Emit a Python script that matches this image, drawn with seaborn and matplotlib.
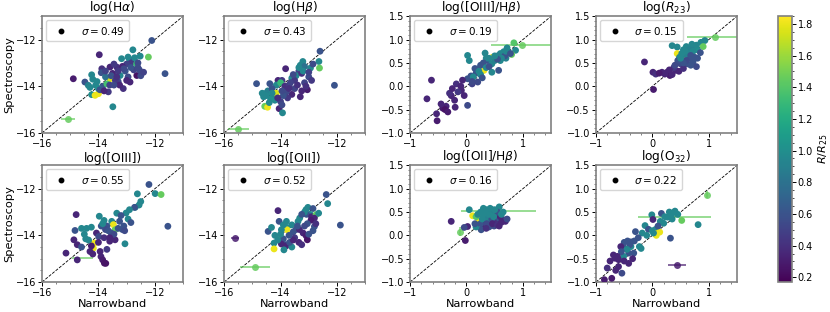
import numpy as np
import pandas as pd
import matplotlib
matplotlib.use("Agg")
import matplotlib.pyplot as plt
import seaborn as sns

# colour scale (R/R25)
vmin, vmax = 0.17, 1.85

titles = ["log(H$\\alpha$)", "log(H$\\beta$)", "log([OIII]/H$\\beta$)", "log($R_{23}$)",
          "log([OIII])", "log([OII])", "log([OII]/H$\\beta$)", "log(O$_{32}$)"]
sigmas = [0.49, 0.43, 0.19, 0.15, 0.55, 0.52, 0.16, 0.22]

# --- log(Halpha)
ha_x = [-12.11, -12.78, -12.52, -12.23, -13.97, -13.18, -12.9, -12.8, -12.7, -12.85, -12.65, -13.0,
        -11.64, -14.89, -14.48, -14.24, -13.88, -13.59, -13.35, -13.15, -13.9, -13.5, -13.23, -12.64,
        -12.88, -13.12, -13.65, -13.85, -14.1, -14.36, -14.24, -14.12, -14.0, -13.59, -13.7, -13.49,
        -13.3, -13.05, -12.75, -13.4, -13.6, -14.0, -13.75, -12.95, -13.25, -14.3, -12.6, -13.45,
        -12.95, -12.72, -12.6, -12.55, -12.85, -13.1, -13.3, -13.0, -13.55, -13.75, -14.2, -14.05,
        -13.95, -13.8, -13.45, -13.35, -12.5, -12.4]
ha_y = [-12.04, -12.44, -12.71, -12.75, -12.65, -12.82, -12.85, -12.9, -12.95, -13.0, -13.05, -13.05,
        -13.46, -13.68, -13.82, -13.51, -13.25, -13.18, -13.18, -13.15, -13.42, -13.45, -13.54, -13.54,
        -13.82, -14.1, -14.24, -14.0, -13.96, -13.96, -14.36, -14.39, -14.32, -13.68, -13.9, -14.88,
        -13.8, -13.35, -13.3, -13.75, -13.95, -14.1, -13.6, -13.6, -13.95, -14.05, -13.2, -13.05,
        -12.75, -12.78, -13.0, -13.3, -13.2, -13.25, -13.35, -13.75, -13.55, -13.35, -13.7, -13.8,
        -14.15, -14.2, -13.95, -13.6, -13.55, -13.4]
ha_c = [0.6, 0.95, 0.95, 1.45, 0.35, 0.95, 0.9, 0.6, 1.0, 0.45, 1.3, 0.5,
        0.6, 0.3, 0.6, 0.95, 0.4, 0.35, 0.4, 0.35, 0.6, 0.35, 0.95, 0.25,
        0.35, 0.4, 0.45, 0.6, 0.95, 0.9, 1.0, 1.8, 1.8, 1.75, 1.35, 0.95,
        0.55, 0.6, 0.5, 0.45, 0.5, 1.0, 0.8, 0.55, 0.35, 0.95, 0.55, 0.45,
        0.95, 0.95, 0.55, 0.55, 0.6, 0.55, 0.45, 0.35, 0.6, 0.5, 0.95, 0.95,
        0.6, 0.35, 0.55, 0.4, 0.55, 0.5]

# --- log(Hbeta)
hb_x = [-12.6, -13.21, -12.64, -12.94, -12.62, -12.09, -13.82, -13.3, -13.15, -13.35, -13.45, -13.6,
        -13.25, -13.0, -13.5, -14.85, -14.38, -14.09, -13.95, -14.15, -14.0, -14.56, -14.45, -14.3,
        -14.56, -14.46, -14.2, -14.0, -14.05, -13.93, -13.05, -13.3, -13.5, -13.6, -13.8, -13.75,
        -14.25, -14.35, -14.15, -13.85, -13.7, -13.9, -13.4, -13.15, -14.6, -14.1,
        -13.35, -13.2, -13.0, -12.9, -13.1, -13.25, -13.55, -13.65, -13.95, -14.3, -14.5, -14.65,
        -14.4, -13.95, -13.7, -12.85]
hb_y = [-12.5, -12.94, -12.94, -13.22, -13.22, -13.96, -13.25, -13.1, -13.15, -13.35, -13.55, -13.65,
        -13.45, -13.6, -13.75, -13.89, -13.89, -13.75, -13.75, -13.95, -13.85, -14.32, -14.2, -14.1,
        -14.86, -14.9, -14.6, -14.65, -14.96, -15.14, -14.15, -14.45, -14.1, -14.35, -14.25, -14.5,
        -14.4, -14.55, -14.3, -14.0, -13.95, -14.4, -13.95, -13.85, -14.45, -14.5,
        -13.2, -13.35, -13.4, -13.75, -14.0, -14.2, -13.5, -13.85, -14.2, -14.3, -14.4, -14.3,
        -14.7, -14.8, -14.1, -13.05]
hb_c = [0.6, 0.95, 0.95, 0.95, 1.45, 0.6, 0.35, 0.95, 0.8, 0.5, 0.95, 0.95,
        0.4, 0.55, 0.45, 0.6, 0.6, 0.35, 0.45, 0.95, 1.3, 0.95, 0.9, 0.6,
        1.45, 1.8, 0.95, 0.5, 0.35, 0.95, 0.3, 0.35, 0.5, 0.35, 0.55, 0.45,
        0.95, 1.0, 1.75, 0.4, 0.45, 0.6, 0.4, 0.5, 0.95, 0.4,
        0.95, 0.95, 0.5, 0.45, 0.4, 0.35, 0.55, 0.5, 0.55, 0.95, 0.95, 0.95,
        0.95, 0.55, 0.4, 0.55]

# --- log([OIII]/Hbeta)
o3hb_x = [0.84, 0.87, 0.8, 0.72, 0.66, 0.6, 0.55, 0.46, 0.02, 0.05, 0.33, 0.38, 0.45, 0.31, 0.57,
          0.45, 0.2, 0.17, 0.08, 0.02, 0.2, 0.12, 0.25, 0.35, 0.5, -0.07, -0.18, -0.09, -0.27, -0.15,
          -0.04, 0.02, -0.21, -0.62, -0.7, -0.36, -0.42, -0.38, -0.33, -0.2, -0.53, -0.52, -0.3, 0.1,
          0.28, 0.6, 0.7,
          0.75, 0.68, 0.62, 0.55, 0.5, 0.4, 0.3, 0.25, 0.15, 0.22, 0.35, 0.4, 0.1, -0.1, -0.25,
          -0.45, 0.7, 0.78]
o3hb_y = [0.93, 0.77, 0.68, 0.82, 0.74, 0.7, 0.65, 0.62, 0.66, 0.55, 0.71, 0.55, 0.48, 0.34, 0.34,
          0.3, 0.37, 0.28, 0.22, 0.16, 0.09, 0.2, 0.25, 0.6, 0.55, 0.13, 0.05, -0.09, -0.2, -0.12,
          -0.2, -0.41, -0.3, 0.13, -0.27, -0.43, -0.47, -0.5, -0.55, -0.45, -0.59, -0.74, -0.15, 0.05,
          0.18, 0.55, 0.6,
          0.72, 0.65, 0.6, 0.58, 0.65, 0.6, 0.5, 0.45, 0.38, 0.32, 0.4, 0.42, 0.1, 0.0, -0.05,
          -0.38, 0.75, 0.7]
o3hb_c = [1.4, 0.95, 1.45, 0.95, 0.95, 0.95, 0.9, 1.8, 0.95, 0.95, 0.95, 0.6, 0.95, 1.8, 0.6,
          0.95, 0.95, 0.6, 0.6, 0.6, 0.55, 0.95, 0.95, 0.95, 0.9, 0.35, 0.4, 0.35, 0.35, 0.45,
          0.35, 0.55, 0.35, 0.35, 0.35, 0.35, 0.3, 0.25, 0.3, 0.35, 0.35, 0.3, 0.4, 0.5,
          0.6, 0.95, 0.9,
          0.95, 0.6, 0.95, 0.6, 0.95, 0.95, 0.6, 0.6, 0.6, 0.95, 0.95, 0.6, 0.55, 0.35, 0.35,
          0.35, 0.95, 0.6]

# --- log(R23)
r23_x = [0.93, 0.86, 0.9, 0.35, 0.44, 0.6, 0.68, 0.75, 0.8, 0.62, 0.7, 0.55, 0.44, 0.56, 0.65,
         0.52, 0.72, 0.78, 0.62, 0.5, 0.8, -0.14, 0.01, 0.06, 0.17, 0.26, 0.31, 0.35, 0.41, 0.47,
         0.38, 0.55, 0.02, 0.48, 0.58,
         0.7, 0.78, 0.65, 0.72, 0.85, 0.58, 0.52, 0.68, 0.75, 0.6, 0.55, 0.45, 0.4, 0.68, 0.3,
         0.22, 0.12, 0.5]
r23_y = [0.98, 0.94, 0.85, 0.87, 0.84, 0.85, 0.8, 0.82, 0.78, 0.72, 0.7, 0.78, 0.7, 0.62, 0.6,
         0.56, 0.52, 0.42, 0.48, 0.48, 0.6, 0.52, 0.30, 0.26, 0.30, 0.3, 0.23, 0.25, 0.34, 0.32,
         0.4, 0.38, -0.07, 0.62, 0.68,
         0.9, 0.88, 0.78, 0.75, 0.72, 0.75, 0.7, 0.66, 0.62, 0.55, 0.5, 0.55, 0.45, 0.45, 0.35,
         0.26, 0.28, 0.6]
r23_c = [0.95, 0.95, 1.45, 0.95, 0.95, 0.95, 0.95, 0.9, 1.0, 0.95, 0.9, 0.95, 1.8, 1.8, 0.6,
         0.6, 0.6, 0.55, 0.6, 0.55, 0.6, 0.35, 0.35, 0.4, 0.35, 0.35, 0.3, 0.35, 0.35, 0.35,
         0.45, 0.4, 0.3, 0.95, 0.9,
         0.95, 0.95, 0.9, 0.95, 0.6, 0.95, 0.95, 0.6, 0.6, 0.55, 0.6, 0.6, 0.55, 0.6, 0.35,
         0.35, 0.3, 0.95]

# --- log([OIII])
o3_x = [-12.21, -11.99, -11.78, -12.62, -12.5, -12.56, -12.7, -12.72, -13.02, -13.35, -13.2, -12.95,
        -13.1, -13.15, -13.07, -13.06, -11.54, -14.79, -13.97, -13.8, -13.53, -13.47, -13.41, -13.7,
        -13.75, -13.65, -13.9, -14.6, -14.42, -14.25, -14.83, -14.87, -14.75, -14.45, -14.07, -13.99,
        -14.14, -14.18, -14.25, -13.94, -13.41, -13.6, -13.8, -14.3, -15.15, -13.91, -13.85, -13.79,
        -13.74, -14.75, -14.6, -13.55,
        -12.9, -13.25, -13.3, -12.85, -13.45, -13.6, -14.0, -14.35, -14.5, -13.85, -14.2, -13.7]
o3_y = [-11.82, -12.21, -12.25, -12.22, -12.55, -12.7, -12.8, -12.8, -13.04, -13.05, -13.15, -13.3,
        -13.6, -13.75, -13.8, -14.36, -13.61, -13.11, -13.18, -13.36, -13.4, -13.54, -13.76, -13.6,
        -13.75, -13.8, -13.6, -13.7, -13.7, -13.65, -13.79, -14.19, -14.4, -14.15, -13.9, -14.05,
        -14.33, -14.55, -14.45, -14.69, -14.19, -14.25, -14.1, -14.69, -14.76, -14.91, -15.05, -15.19,
        -15.2, -15.05, -14.5, -13.9,
        -12.9, -13.4, -13.7, -13.45, -13.95, -14.1, -14.3, -14.2, -13.95, -13.5, -14.8, -14.6]
o3_c = [0.6, 0.95, 1.45, 0.95, 0.95, 0.95, 0.95, 0.6, 0.95, 0.95, 0.6, 0.95,
        0.6, 0.6, 0.55, 0.95, 0.6, 0.35, 0.95, 0.95, 0.95, 1.8, 1.45, 0.6,
        0.55, 0.6, 0.6, 0.95, 0.95, 0.95, 0.6, 0.35, 0.35, 0.95, 0.35, 0.55,
        1.8, 1.8, 0.3, 0.35, 0.35, 0.35, 0.4, 0.35, 0.35, 0.35, 0.3, 0.25,
        0.25, 0.35, 0.6, 0.6,
        0.95, 0.6, 0.6, 0.6, 0.55, 0.35, 0.35, 0.95, 0.95, 0.95, 0.35, 0.45]

# --- log([OII])
o2_x = [-12.38, -12.33, -13.03, -13.1, -12.85, -12.95, -13.08, -12.9, -12.74, -13.32, -13.38, -12.8,
        -12.92, -11.88, -14.09, -14.05, -14.44, -13.79, -13.6, -13.77, -14.32, -13.77, -13.97, -13.55,
        -13.45, -13.33, -13.2, -13.09, -13.05, -13.0, -12.85, -12.8, -14.2, -13.97, -13.9, -14.23,
        -14.23, -13.82, -13.97, -13.8, -13.6, -13.68, -13.88, -13.35, -13.5, -13.25,
        -13.15, -13.25, -13.05, -13.15, -13.4, -13.55, -13.7, -14.1, -14.0, -13.9, -12.65, -12.75]
o2_y = [-12.25, -12.64, -12.8, -12.9, -12.85, -13.1, -13.1, -13.2, -13.11, -13.26, -13.4, -13.26,
        -13.35, -13.56, -12.94, -13.4, -13.83, -13.4, -13.55, -13.66, -13.66, -13.76, -13.76, -13.85,
        -13.75, -13.75, -13.9, -14.02, -14.19, -13.95, -13.8, -13.62, -14.0, -14.12, -14.15, -14.33,
        -14.58, -14.4, -14.37, -14.45, -14.5, -14.3, -14.62, -14.3, -14.1, -14.4,
        -13.0, -13.1, -13.5, -13.6, -13.6, -14.2, -14.0, -14.2, -13.95, -13.55, -13.05, -13.5]
o2_c = [0.6, 0.95, 0.95, 0.95, 0.6, 0.95, 0.6, 0.35, 1.45, 0.95, 0.95, 0.35,
        0.3, 0.6, 0.35, 0.6, 0.6, 0.95, 0.95, 0.95, 0.95, 1.8, 0.95, 0.6,
        0.6, 0.35, 0.35, 0.3, 0.25, 0.6, 0.6, 0.6, 0.95, 1.45, 0.6, 0.95,
        1.8, 0.6, 0.35, 0.35, 0.95, 0.6, 0.95, 0.35, 0.45, 0.4,
        0.95, 0.6, 0.6, 0.55, 0.6, 0.35, 0.6, 0.95, 0.95, 0.95, 0.95, 0.4]

# --- log([OII]/Hbeta)
o2hb_x = [0.58, 0.05, 0.25, 0.33, 0.41, 0.47, 0.52, 0.45, 0.35, 0.11, 0.22, 0.17, 0.34, 0.43, 0.52,
          0.58, 0.67, 0.31, 0.4, 0.49, 0.69, 0.26, 0.17, -0.27, 0.02, -0.04, -0.02, 0.6, 0.55, 0.3,
          0.38, 0.45, 0.62, 0.25,
          0.3, 0.42, 0.5, 0.65, 0.2, 0.28, 0.36, 0.46, 0.55, 0.62, 0.72, 0.48, 0.4, 0.15, 0.35, 0.58]
o2hb_y = [0.61, 0.55, 0.5, 0.47, 0.5, 0.47, 0.43, 0.55, 0.55, 0.42, 0.32, 0.4, 0.3, 0.27, 0.3,
          0.37, 0.33, 0.22, 0.18, 0.2, 0.3, 0.12, 0.18, 0.3, 0.19, 0.17, -0.11, 0.4, 0.5, 0.4,
          0.35, 0.35, 0.45, 0.25,
          0.58, 0.58, 0.55, 0.5, 0.45, 0.35, 0.25, 0.25, 0.22, 0.28, 0.35, 0.4, 0.45, 0.25, 0.15, 0.2]
o2hb_c = [0.95, 0.95, 0.95, 0.95, 0.95, 0.95, 0.95, 0.9, 0.95, 1.8, 1.8, 1.4, 0.6, 0.6, 0.4,
          0.6, 0.55, 0.35, 0.6, 0.55, 0.35, 0.6, 0.95, 0.35, 0.35, 0.55, 0.3, 0.35, 0.6, 0.95,
          0.9, 0.6, 0.95, 0.6,
          0.95, 0.95, 0.95, 0.95, 0.95, 0.95, 0.55, 0.35, 0.4, 0.35, 0.55, 0.95, 0.95, 0.6, 0.4, 0.35]

# --- log(O32)
o32_x = [-0.01, 0.16, 0.33, 0.27, 0.36, 0.4, 0.52, 0.01, 0.14, 0.2, 0.81, -0.13, -0.07, 0.0, 0.06,
         0.13, 0.07, 0.05, 0.32, -0.18, -0.30, -0.5, -0.44, -0.38, -0.32, -0.5, -0.56, -0.38, -0.23,
         -0.2, -0.33, -0.42, -0.51, -0.69, -0.66, -0.6, -0.75, -0.42, -0.60, -0.72, -0.54, -0.85,
         -0.65, -0.8,
         0.3, 0.22, 0.45, 0.35, 0.1, -0.1, -0.25, -0.4, -0.45, -0.55, -0.62, -0.5, -0.35, 0.02]
o32_y = [0.44, 0.47, 0.45, 0.39, 0.48, 0.52, 0.32, 0.34, 0.3, 0.26, 0.23, 0.21, 0.13, 0.1, 0.13,
         0.07, 0.0, 0.04, -0.06, 0.05, 0.08, -0.15, -0.12, -0.14, -0.12, -0.27, -0.24, -0.24, -0.24,
         -0.28, -0.38, -0.38, -0.45, -0.42, -0.49, -0.52, -0.55, -0.6, -0.67, -0.92, -0.81, -0.95,
         -0.75, -0.7,
         0.5, 0.4, 0.45, 0.35, 0.2, 0.0, -0.05, -0.2, -0.3, -0.35, -0.45, -0.55, -0.5, 0.05]
o32_c = [0.95, 0.6, 0.95, 0.95, 0.95, 0.95, 1.45, 0.35, 0.95, 0.95, 0.95, 0.95, 0.6, 0.95, 0.95,
         1.8, 1.8, 1.8, 0.6, 0.95, 0.6, 0.6, 0.6, 0.6, 0.6, 0.6, 0.35, 0.95, 0.95,
         0.95, 0.6, 0.6, 0.95, 0.35, 0.35, 0.35, 0.35, 0.35, 0.35, 0.3, 0.55, 0.3,
         0.35, 0.4,
         0.95, 0.95, 0.95, 0.95, 0.6, 0.95, 0.6, 0.6, 0.95, 0.6, 0.35, 0.35, 0.35, 0.95]

# points with error bars: (panel, x, y, xerr, yerr, colour, marker shown)
err_panel = [0, 1, 2, 3, 4, 5, 5, 6, 6, 7, 7, 7]
err_x = [-15.07, -15.5, 0.99, 1.11, -14.55, -15.61, -14.91, 0.57, -0.12, 0.96, 0.39, 0.43]
err_y = [-15.42, -15.82, 0.89, 1.05, -14.95, -14.12, -15.34, 0.52, 0.08, 0.87, 0.39, -0.63]
err_xe = [0.24, 0.37, 0.56, 0.5, 0.37, 0.15, 0.53, 0.66, 0.0, 0.0, 0.64, 0.16]
err_ye = [0.0, 0.0, 0.0, 0.0, 0.0, 0.0, 0.0, 0.0, 0.1, 0.07, 0.0, 0.0]
err_c = [1.45, 1.45, 1.45, 1.45, 1.45, 0.3, 1.45, 1.45, 1.45, 1.45, 1.45, 0.3]
err_show = [True, True, True, True, False, True, True, False, True, True, False, True]

panels = [(ha_x, ha_y, ha_c), (hb_x, hb_y, hb_c), (o3hb_x, o3hb_y, o3hb_c), (r23_x, r23_y, r23_c),
          (o3_x, o3_y, o3_c), (o2_x, o2_y, o2_c), (o2hb_x, o2hb_y, o2hb_c), (o32_x, o32_y, o32_c)]

plt.rcParams['axes.edgecolor'] = '0.5'
plt.rcParams['axes.linewidth'] = 1.2
cmap = plt.get_cmap('viridis')
norm = plt.Normalize(vmin, vmax)

fig = plt.figure(figsize=(8.3, 3.12), dpi=100)
lefts = [0.0506, 0.270, 0.494, 0.718]
bottoms = [0.574, 0.096]
w, h = 0.170, 0.374

for i, (px, py, pc) in enumerate(panels):
    row, col = divmod(i, 4)
    ax = fig.add_axes([lefts[col], bottoms[row], w, h])
    lum = col < 2
    lo, hi = (-16, -11) if lum else (-1, 1.5)
    df = pd.DataFrame({'x': px, 'y': py, 'c': pc})
    ax.plot([lo, hi], [lo, hi], 'k--', lw=0.6, zorder=1)
    sns.scatterplot(data=df, x='x', y='y', hue='c', palette='viridis', hue_norm=(vmin, vmax),
                    s=24, edgecolor='none', legend=False, ax=ax, zorder=3)
    for k in range(len(err_panel)):
        if err_panel[k] != i:
            continue
        col_k = cmap(norm(err_c[k]))
        ax.errorbar(err_x[k], err_y[k], xerr=err_xe[k] or None, yerr=err_ye[k] or None,
                    fmt='o' if err_show[k] else 'none', color=col_k, ms=5, mec='none',
                    ecolor=col_k, elinewidth=1.1, alpha=0.85, zorder=2)
    ax.plot([], [], 'o', color='k', ms=3.2, label=f"$\\sigma = {sigmas[i]:.2f}$")
    ax.legend(loc='upper left', fontsize=7.5, handletextpad=0.9, borderpad=0.45,
              handlelength=2.0, borderaxespad=0.35)
    ax.set_xlim(lo, hi)
    ax.set_ylim(lo, hi)
    if lum:
        ax.set_xticks([-16, -14, -12])
        ax.set_yticks([-16, -14, -12])
    else:
        ax.set_xticks([-1, 0, 1])
        ax.set_yticks([-1.0, -0.5, 0.0, 0.5, 1.0, 1.5])
    ax.minorticks_on()
    ax.tick_params(labelsize=7, color='k', length=2.8, width=0.7, pad=1.5)
    ax.tick_params(which='minor', color='0.3', length=1.5, width=0.5)
    ax.set_title(titles[i], fontsize=8.8, pad=2.5)
    ax.set_xlabel('Narrowband' if row == 1 else '', fontsize=8.2, labelpad=1)
    ax.set_ylabel('Spectroscopy' if col == 0 else '', fontsize=8.2, labelpad=1)

cax = fig.add_axes([0.937, 0.096, 0.017, 0.853])
sm = plt.cm.ScalarMappable(cmap=cmap, norm=norm)
cb = fig.colorbar(sm, cax=cax)
cb.set_ticks([0.2, 0.4, 0.6, 0.8, 1.0, 1.2, 1.4, 1.6, 1.8])
cb.minorticks_on()
cb.ax.tick_params(labelsize=7, length=2.8, width=0.7, pad=1.5)
cb.ax.tick_params(which='minor', length=1.5, width=0.5)
cb.set_label('$R/R_{25}$', fontsize=8, labelpad=2)

fig.savefig('out.png', dpi=100)
